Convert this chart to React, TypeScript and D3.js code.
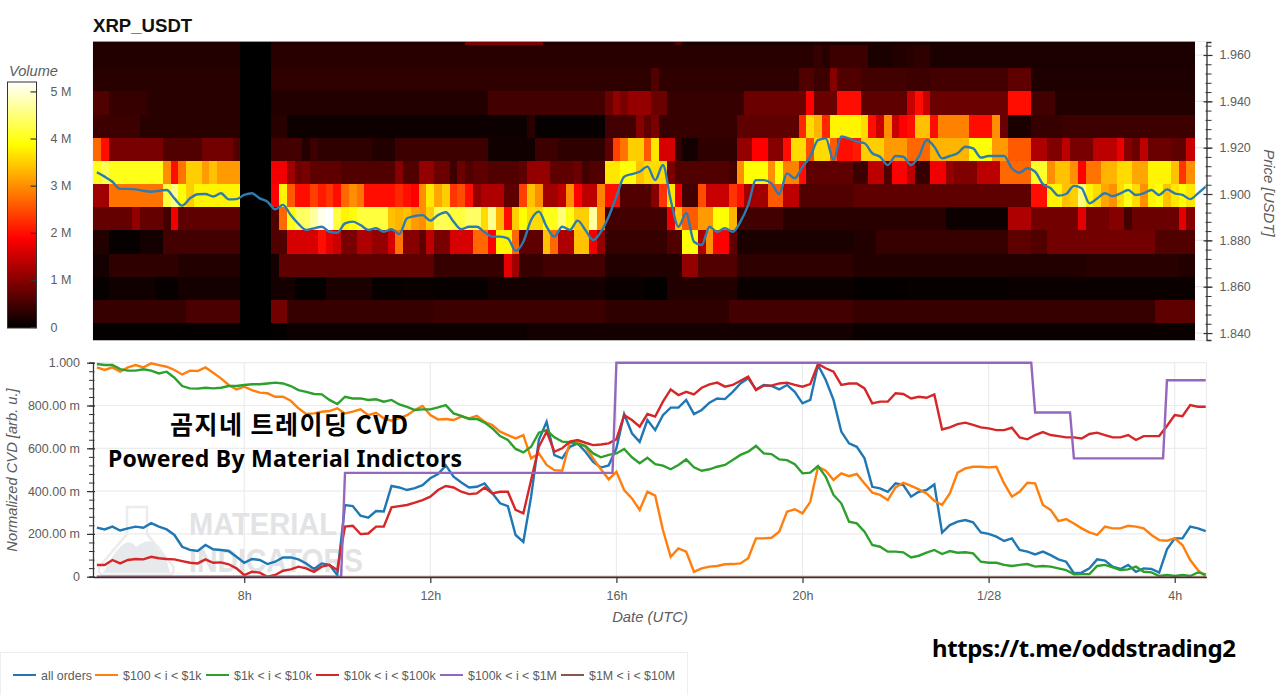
import React, { useRef, useEffect } from 'react';
import * as d3 from 'd3';

// volume per price bin (M), one value per 10 min column, top row first
const vol1964 = [
  .25,.25,.25,.25,.25,.25,.25,.25,.25,.25,
  .25,.25,.25,.25,.25,.25,.25,.25,.25,0,
  0,0,0,.25,.25,.25,.25,.25,.25,.25,
  .25,.25,.25,.25,.25,.25,.25,.25,.25,.25,
  .25,.25,.25,.25,.25,.25,.25,.25,.9,.9,
  .9,.9,.9,.9,.9,.9,.9,.9,.25,.25,
  .25,.25,.25,.25,.25,.25,.25,.25,.25,.25,
  .25,.25,.25,.25,.25,.6,.2,.2,.2,.2,
  .2,.2,.2,.2,.2,.2,.2,.2,.2,.2,
  .2,.2,.2,.2,.2,.2,.2,.2,.2,.2,
  .2,.2,.2,.2,.2,.2,.2,.2,.2,.2,
  .2,.2,.2,.2,.2,.2,.2,.2,.2,.2,
  .2,.2,.2,.2,.2,.2,.2,.2,.2,.2,
  .2,.2,.2,.2,.2,.2,.2,.2,.2,.2,
  .2,.2];
const vol1954 = [
  .25,.25,.25,.25,.25,.25,.25,.25,.25,.25,
  .25,.25,.25,.25,.25,.25,.25,.25,.25,0,
  0,0,0,.3,.3,.3,.3,.3,.3,.3,
  .3,.3,.3,.3,.3,.3,.3,.3,.3,.3,
  .3,.3,.3,.3,.3,.3,.3,.3,.3,.3,
  .3,.3,.3,.3,.3,.3,.3,.3,.3,.3,
  .3,.3,.3,.3,.3,.3,.3,.3,.3,.3,
  .3,.3,.3,.3,.3,.3,.3,.3,.3,.3,
  .3,.3,.3,.3,.3,.3,.3,.3,.3,.3,
  .3,.3,.3,.4,.3,.45,.45,.45,.45,.45,
  .2,.2,.2,.25,.25,.3,.35,.35,.2,.2,
  .2,.2,.2,.2,.2,.2,.2,.2,.2,.2,
  .2,.2,.2,.2,.2,.2,.2,.2,.2,.2,
  .2,.2,.2,.2,.2,.2,.2,.2,.2,.2,
  .2,.2];
const vol1944 = [
  .3,.3,.3,.3,.3,.3,.3,.3,.3,.3,
  .3,.3,.3,.3,.3,.3,.3,.3,.3,0,
  0,0,0,.35,.35,.35,.35,.35,.35,.35,
  .35,.35,.35,.35,.35,.35,.35,.35,.35,.35,
  .35,.35,.35,.35,.35,.35,.35,.35,.35,.35,
  .35,.35,.35,.35,.35,.35,.35,.35,.35,.35,
  .35,.35,.35,.35,.35,.35,.35,.35,.35,.35,
  .35,.35,.6,.35,.35,.35,.35,.35,.35,.35,
  .35,.35,.35,.35,.35,.35,.35,.35,.35,.35,
  .35,.6,.6,.45,.45,1,.6,.6,.6,.5,
  .5,.5,.5,.5,.5,.45,.45,.45,.5,.5,
  .5,.5,.5,.5,.5,.5,.5,.5,.7,.7,
  .7,.22,.22,.22,.22,.22,.22,.22,.22,.22,
  .22,.22,.22,.22,.22,.22,.22,.22,.22,.22,
  .22,.22];
const vol1934 = [
  .6,.6,.4,.4,.4,.4,.4,.3,.3,.3,
  .3,.3,.3,.3,.3,.3,.3,.3,.3,0,
  0,0,0,.25,.25,.25,.25,.25,.25,.25,
  .25,.25,.25,.25,.25,.25,.25,.25,.25,.25,
  .25,.25,.25,.25,.25,.25,.25,.25,.25,.25,
  .25,.5,.5,.5,.5,.5,.5,.5,.5,.5,
  .5,.5,.5,.5,.5,.5,.8,1.1,.9,1.1,
  1.1,1.1,.8,.8,.4,.4,.4,.4,.4,.4,
  .4,.4,.4,.4,.8,.8,.8,.8,.8,.8,
  .8,.8,1.9,.8,.8,.8,2,2,2,.7,
  .7,.7,.7,.7,.7,1.5,2,1.5,.8,.8,
  .8,.8,.8,.8,.8,.8,.8,.8,2,2,
  2,.5,.5,.5,.25,.25,.25,.25,.25,.25,
  .25,.25,.25,.25,.25,.25,.25,.25,.25,.25,
  .25,.25];
const vol1924 = [
  .45,.45,.45,.45,.45,.45,.3,.3,.3,.3,
  .3,.3,.3,.3,.3,.3,.3,.3,.3,0,
  0,0,0,.3,.3,.1,.1,.1,.1,.1,
  .1,.1,.1,.1,.1,.1,.1,.1,.1,.1,
  .1,.1,.1,.1,.1,.1,.1,.1,.1,.1,
  .1,.1,.1,.1,.1,.1,.3,.05,.05,.05,
  .05,.05,.05,.05,.05,.05,.5,.5,.5,.5,
  1,.7,.9,.4,.4,.4,.4,.4,.4,.4,
  .4,.4,.4,.7,.7,.7,.7,.7,.7,.7,
  .7,2.2,3.6,3.3,2.2,3.8,3.8,3.8,3.8,3.6,
  2,1.5,3,1.5,1.9,2,3.4,3.4,2,2.9,
  2.9,2.9,2.9,2,2,2,3,.8,.2,.2,
  .2,.4,.4,.4,.4,.45,.45,.45,.45,.45,
  .45,.45,.45,.45,.45,.45,.45,.45,.45,.45,
  .45,.45];
const vol1914 = [
  2.7,2,.9,.9,.9,.9,.9,.9,.9,.6,
  .6,.6,.6,.6,.85,.85,.85,.85,.6,0,
  0,0,0,.5,.5,.5,.5,.25,.45,.35,
  .35,.35,.35,.35,.35,.35,.25,.25,.25,.45,
  .45,.45,.45,.45,.45,.45,.45,.45,.45,.45,
  .45,.12,.12,.12,.12,.12,.12,.45,.45,.45,
  .35,.35,.35,.35,.35,.35,.7,2.4,2.8,3.5,
  3.5,2.6,3.7,1.6,1.6,.4,.15,.15,.35,.35,
  .35,.35,.35,1.1,1.1,1.9,1.9,1,1,2,
  3.6,3.6,2.5,3.6,3.6,2.6,2,2,2.1,3.5,
  3.5,3.5,3.1,3.1,3.1,2.7,2.7,2.7,3.3,3.3,
  3.3,3.3,3.3,3.9,3.9,3.9,3.1,3.1,2.6,2.6,
  2.6,1.3,1.3,.95,.95,1.4,.9,.9,.9,1.4,
  1.4,1.4,1.75,1,.8,1.4,.8,.8,.8,.7,
  .7,1.5];
const vol1904 = [
  4,4.3,4,4,4,4,4,4,4,3,
  2,2.8,3.5,3.5,3.1,3.4,3.1,3.1,3.1,0,
  0,0,0,1.8,1.8,1.2,.8,.9,.7,.7,
  .7,.7,.6,.6,.6,.6,.6,.6,.6,1,
  .6,.6,1.1,1.1,.8,.8,.45,.8,.6,.7,
  .7,.6,.6,.6,.6,.7,1.1,1.1,1.1,.7,
  .7,.7,.8,.5,.6,.6,3.7,3.7,3.9,3.9,
  3.4,3.6,3.6,3.6,.9,.6,.6,.6,.6,.6,
  .6,.6,.5,3,3.9,3.9,3.9,3,3.9,2.9,
  2.9,2,.7,.7,.7,.7,.7,.7,.45,.45,
  1.4,1.4,.6,1.9,1.9,1.4,.4,.4,1.8,1.8,
  1.1,.95,.95,.95,1.4,1.4,1.4,2.7,2.7,2.7,
  2.7,4.1,4.1,3,3.4,3.4,3,1.9,2.8,2.8,
  3.3,3.3,3.6,3.6,3.2,3.2,3.8,3.8,3.8,3.4,
  2.3,3];
const vol1894 = [
  1.2,1.2,2.8,2.8,2.8,2.8,2.8,2.8,2.8,4.2,
  4.6,3.9,3.5,3.8,3.8,3.8,3.8,3.8,3.8,0,
  0,0,0,1.9,3.8,2.6,2,2,2.4,2.1,
  2.3,2,2.7,3,2.8,2,2,2,2,2.2,
  2,1.9,3,3.7,3.2,3.5,2.3,2.5,2,1.1,
  1.3,1.3,1.3,.7,.7,2.4,3.4,3,1.2,1.2,
  1.4,3,1.9,1.4,1.4,2.9,2,2,.6,.6,
  .6,.6,1,2.3,3.7,1.8,.5,.5,2.5,1.5,
  1.5,1.5,2.3,2,1.2,1.2,1.2,2.6,2.6,1.4,
  1.4,.6,.6,.6,.6,.6,.6,.6,.7,.7,
  .7,.7,.7,.7,.7,.7,.7,.7,.7,.7,
  .7,.7,.7,.7,.7,.7,.7,.7,.7,.7,
  .7,2,2,3.8,3.8,3.4,3.5,4.5,3.8,3.6,
  3.2,3,3.6,4,3.6,3,3.8,3.9,3.4,3.7,
  3.9,3.7];
const vol1884 = [
  .75,.75,.75,.75,.75,1.1,.75,.75,.75,.5,
  1.8,.7,.7,.7,.7,.7,.7,.7,.7,0,
  0,0,0,.6,2.7,4,4.4,4.4,4.7,5.1,
  5.2,4.2,3.8,3.9,4.2,4.2,4.2,4.2,3.4,3.3,
  3.4,3.1,3,3.5,4.3,4.3,4.2,4.2,4.4,4.4,
  3.6,4.6,3.3,2,3.5,3.9,3.6,3.6,4,4,
  4.5,4,3.5,3.5,4.7,3,.5,.5,.5,.5,
  .5,.5,.5,.5,1.8,3.4,2.6,2.6,3.1,3.1,
  3.9,3.9,3.3,.5,.5,.5,.5,.5,.5,.3,
  .3,.3,.3,.3,.3,.3,.3,.3,.3,.3,
  .3,.3,.3,.3,.3,.3,.3,.3,.3,.3,
  .1,.1,.1,.1,.1,.1,.1,.1,1.3,1.3,
  1.3,.85,.85,.85,.85,.85,.85,1.7,.85,.85,
  .85,1,1,.5,.8,.8,.8,.8,.8,.8,
  1.7,1];
const vol1874 = [
  .25,.25,.05,.05,.05,.05,.15,.15,.15,.5,
  .5,.5,.5,.5,.5,.5,.5,.5,.5,0,
  0,0,0,.6,.6,1.6,1.6,1.6,1.6,2,
  1.7,1.5,.9,.9,1.3,1.3,1.1,1.1,1.6,2.8,
  1,1,.7,1.4,.9,.9,1.6,1.6,1.6,2.7,
  2.7,1.9,3.8,3.8,2.7,.7,.7,.7,3.4,2.7,
  1.3,1.3,3.4,3.4,1.8,1.1,.4,.4,.4,.4,
  .4,.4,.4,.4,.6,.6,3.9,3.9,1.3,3,
  1.9,1.9,.7,.2,.2,.2,.2,.2,.2,.2,
  .2,.2,.2,.2,.2,.2,.2,.2,.25,.25,
  .25,.4,.4,.4,.4,.4,.4,.4,.4,.4,
  .4,.4,.4,.4,.4,.4,.4,.4,.7,.7,
  .7,.6,.6,.85,.85,.85,.85,.85,.85,.85,
  .85,.85,.85,.85,.85,.85,.85,.6,.6,.6,
  .6,.6];
const vol1864 = [
  .15,.15,.35,.35,.35,.35,.35,.35,.35,.35,
  .35,.25,.25,.25,.25,.25,.25,.25,.25,0,
  0,0,0,.15,.7,.7,.7,.7,.7,.7,
  .7,.7,.7,.7,.7,.7,.7,.7,.7,.7,
  .7,.7,.7,.7,.4,.4,.4,.4,.4,.4,
  .4,.4,.4,1.7,1.2,.4,.4,.4,.5,.5,
  .5,.5,.5,.5,.5,.5,.25,.25,.25,.25,
  .25,.25,.25,.25,.25,.25,1.1,1.1,.6,.6,
  .6,.6,.6,.35,.35,.35,.35,.35,.35,.35,
  .35,.35,.35,.35,.35,.35,.35,.35,.25,.25,
  .25,.25,.25,.25,.25,.25,.25,.25,.25,.25,
  .25,.25,.25,.25,.25,.25,.25,.25,.25,.25,
  .25,.25,.25,.25,.25,.25,.25,.25,.3,.3,
  .3,.3,.3,.3,.3,.3,.3,.3,.3,.3,
  .25,.25];
const vol1854 = [
  .05,.05,.12,.12,.12,.12,.12,.12,.05,.05,
  .05,.15,.15,.15,.15,.15,.15,.15,.15,0,
  0,0,0,.15,.15,.15,.02,.02,.02,.02,
  .2,.2,.2,.2,.2,.2,.05,.05,.05,.05,
  .08,.08,.08,.08,.05,.05,.05,.05,.05,.05,
  .05,.15,.15,.15,.15,.15,.15,.15,.15,.15,
  .15,.15,.15,.15,.15,.15,.08,.08,.08,.08,
  .08,.02,.02,.02,.25,.25,.25,.25,.25,.25,
  .25,.25,.25,.08,.08,.08,.08,.08,.08,.08,
  .08,.08,.08,.08,.08,.08,.08,.08,.03,.03,
  .03,.03,.03,.03,.03,.05,.05,.05,.05,.05,
  .05,.05,.05,.05,.05,.05,.05,.05,.08,.08,
  .08,.08,.08,.08,.08,.08,.08,.08,.08,.08,
  .08,.08,.08,.08,.08,.08,.08,.08,.08,.08,
  .08,.08];
const vol1844 = [
  .4,.4,.4,.4,.4,.4,.4,.4,.4,.4,
  .4,.4,.55,.55,.55,.55,.55,.55,.55,0,
  0,0,0,.85,.85,.4,.4,.4,.4,.4,
  .4,.4,.4,.4,.4,.4,.4,.4,.4,.4,
  .4,.4,.4,.4,.45,.45,.45,.45,.45,.45,
  .45,.45,.45,.45,.45,.45,.45,.45,.45,.45,
  .45,.45,.45,.45,.45,.45,.35,.35,.35,.35,
  .35,.35,.35,.35,.35,.35,.35,.35,.35,.35,
  .35,.35,.5,.5,.5,.5,.5,.5,.5,.5,
  .5,.5,.5,.5,.5,.5,.5,.5,.4,.4,
  .4,.4,.4,.4,.4,.4,.4,.4,.4,.4,
  .4,.4,.4,.4,.4,.4,.4,.4,.4,.4,
  .4,.4,.4,.4,.4,.4,.4,.4,.4,.4,
  .4,.4,.4,.4,.4,.4,.4,.7,.7,.7,
  .7,.7];
const vol1834 = [
  .03,.03,.03,.03,.03,.03,.03,.03,.03,.03,
  .03,.03,.03,.03,.03,.03,.03,.03,.03,0,
  0,0,0,.03,.03,.1,.1,.1,.1,.1,
  .1,.1,.1,.1,.1,.1,.1,.1,.1,.1,
  .1,.1,.1,.1,.1,.1,.1,.1,.1,.1,
  .1,.1,.1,.1,.1,.1,.15,.15,.15,.15,
  .15,.15,.15,.15,.15,.15,.15,.15,.15,.15,
  .15,.15,.15,.15,.15,.15,.15,.15,.15,.15,
  .15,.15,.15,.15,.15,.15,.15,.15,.15,.15,
  .15,.15,.15,.15,.15,.15,.15,.15,.08,.08,
  .08,.08,.08,.08,.08,.08,.08,.08,.08,.08,
  .08,.08,.08,.08,.08,.08,.08,.08,.08,.08,
  .08,.08,.08,.08,.08,.08,.08,.08,.08,.08,
  .08,.08,.08,.08,.08,.08,.08,.08,.08,.08,
  .08,.08];
const volumeRows = [vol1964, vol1954, vol1944, vol1934, vol1924, vol1914, vol1904, vol1894, vol1884, vol1874, vol1864, vol1854, vol1844, vol1834];
const rowBottoms = [1.9643, 1.9543, 1.9443, 1.9343, 1.9243, 1.9143, 1.9043, 1.8943, 1.8843, 1.8743, 1.8643, 1.8543, 1.8443, 1.8343];

// price and normalised CVD, one value per 10 min from 4:50
const price = [
  1.9094,1.9075,1.9053,1.9022,1.9022,1.9020,1.9014,1.9010,1.9014,1.9017,
  1.8981,1.8950,1.8981,1.8999,1.9000,1.8989,1.9003,1.8977,1.8978,1.8996,
  1.9003,1.8981,1.8967,1.8934,1.8953,1.8909,1.8871,1.8845,1.8852,1.8859,
  1.8837,1.8833,1.8873,1.8881,1.8866,1.8845,1.8852,1.8837,1.8848,1.8827,
  1.8895,1.8905,1.8909,1.8885,1.8909,1.8921,1.8881,1.8848,1.8859,1.8859,
  1.8835,1.8816,1.8816,1.8809,1.8755,1.8794,1.8888,1.8924,1.8859,1.8816,
  1.8859,1.8845,1.8885,1.8845,1.8801,1.8837,1.8902,1.8989,1.9075,1.9086,
  1.9096,1.9118,1.9060,1.9125,1.8974,1.8859,1.8917,1.8794,1.8780,1.8859,
  1.8837,1.8852,1.8837,1.8881,1.8953,1.9060,1.9060,1.9046,1.9000,1.9089,
  1.9068,1.9118,1.9161,1.9233,1.9240,1.9147,1.9248,1.9240,1.9226,1.9219,
  1.9176,1.9161,1.9125,1.9164,1.9161,1.9125,1.9161,1.9233,1.9204,1.9154,
  1.9164,1.9176,1.9204,1.9197,1.9157,1.9164,1.9164,1.9164,1.9111,1.9092,
  1.9111,1.9096,1.9043,1.9025,1.8993,1.9000,1.9035,1.9025,1.8960,1.8981,
  1.9003,1.8991,1.9003,1.9017,1.8996,1.9003,1.9017,1.8996,1.9020,1.9003,
  1.8996,1.8978,1.9003,1.9032];
const allOrders = [
  .229,.221,.234,.216,.226,.234,.229,.25,.234,.221,
  .195,.14,.125,.12,.148,.128,.125,.12,.093,.065,
  .083,.078,.059,.07,.09,.09,.081,.062,.036,.062,
  .055,.008,.335,.33,.285,.276,.307,.305,.424,.417,
  .405,.414,.428,.46,.48,.52,.467,.44,.417,.42,
  .436,.39,.343,.33,.195,.163,.374,.64,.724,.568,
  .553,.607,.623,.584,.537,.51,.52,.6,.76,.67,
  .63,.732,.685,.755,.79,.79,.826,.76,.779,.813,
  .833,.83,.864,.903,.927,.875,.896,.891,.875,.896,
  .864,.81,.826,.989,.919,.826,.678,.623,.607,.553,
  .42,.413,.397,.436,.428,.374,.397,.405,.431,.206,
  .241,.257,.265,.254,.207,.2,.187,.167,.179,.125,
  .117,.104,.117,.101,.081,.07,.016,.019,.039,.081,
  .075,.047,.036,.055,.023,.039,.036,.019,.128,.179,
  .179,.234,.226,.213];
const orders100 = [
  .978,.966,.978,.958,.978,.989,.978,.997,.989,.981,
  .966,.945,.963,.961,.978,.953,.927,.896,.875,.888,
  .872,.86,.857,.841,.841,.822,.787,.76,.763,.771,
  .774,.787,.763,.771,.782,.755,.766,.74,.729,.74,
  .755,.779,.798,.755,.735,.737,.732,.748,.74,.752,
  .724,.709,.678,.662,.646,.662,.553,.576,.522,.498,
  .495,.631,.631,.607,.553,.502,.455,.49,.405,.366,
  .312,.397,.379,.218,.093,.132,.117,.023,.039,.047,
  .05,.058,.059,.062,.086,.179,.179,.182,.21,.304,
  .315,.296,.35,.514,.495,.452,.483,.47,.48,.436,
  .393,.382,.358,.417,.439,.424,.408,.389,.355,.335,
  .389,.486,.506,.514,.514,.511,.514,.436,.374,.397,
  .439,.436,.335,.312,.26,.269,.249,.226,.207,.195,
  .234,.226,.226,.238,.234,.226,.195,.171,.168,.179,
  .148,.078,.031,0];
const orders1k = [
  .994,.989,.989,.97,.963,.963,.969,.963,.95,.958,
  .93,.891,.88,.879,.883,.88,.883,.891,.891,.896,
  .899,.899,.903,.907,.903,.891,.872,.864,.854,.852,
  .826,.807,.841,.833,.833,.826,.829,.818,.826,.805,
  .794,.779,.782,.782,.791,.802,.763,.752,.737,.737,
  .72,.693,.657,.639,.597,.581,.607,.673,.685,.651,
  .631,.628,.62,.611,.576,.558,.569,.576,.597,.558,
  .53,.556,.526,.519,.502,.522,.548,.511,.495,.502,
  .514,.522,.545,.569,.584,.611,.576,.573,.548,.545,
  .526,.483,.486,.517,.467,.382,.343,.257,.249,.21,
  .148,.14,.117,.117,.114,.09,.098,.112,.125,.106,
  .12,.112,.114,.109,.07,.065,.065,.055,.05,.055,
  .059,.047,.05,.047,.039,.031,.011,.012,.012,.05,
  .055,.044,.031,.034,.047,.023,.02,.003,.008,.003,
  .008,.003,.02,.011];
const orders10k = [
  .055,.055,.078,.062,.078,.083,.081,.093,.086,.083,
  .081,.073,.065,.062,.081,.065,.067,.058,.039,.008,
  .023,.019,0,.008,.028,.034,.047,.039,.023,.047,
  .055,.031,.234,.238,.199,.202,.234,.234,.324,.33,
  .335,.346,.358,.374,.405,.424,.417,.397,.386,.389,
  .417,.389,.397,.397,.312,.296,.452,.607,.678,.584,
  .6,.631,.639,.626,.615,.618,.623,.642,.755,.732,
  .701,.76,.748,.818,.875,.849,.864,.852,.883,.899,
  .907,.888,.896,.916,.935,.872,.893,.893,.903,.907,
  .896,.888,.9,.994,.974,.958,.896,.903,.903,.88,
  .81,.818,.818,.857,.854,.833,.841,.836,.852,.688,
  .698,.713,.72,.709,.698,.693,.685,.685,.696,.651,
  .642,.662,.676,.662,.657,.651,.651,.646,.667,.673,
  .662,.651,.651,.662,.639,.657,.657,.657,.704,.755,
  .75,.802,.794,.794];
// 5 min positions and levels of the two step series
const steps100kAt = [0, 63, 64, 133, 134, 241, 242, 251, 252, 275, 276, 286];
const steps100k = [0, 0, .485, .485, 1, 1, .767, .767, .553, .553, .918, .918];
const steps1mAt = [0, 286];
const steps1m = [0, 0];

const seriesNames = ['all orders', '$100 < i < $1k', '$1k < i < $10k', '$10k < i < $100k', '$100k < i < $1M', '$1M < i < $10M'];
const seriesColors = ['#1f77b4', '#ff7f0e', '#2ca02c', '#d62728', '#9467bd', '#8c564b'];
const legendLineX = [13, 95, 206, 316, 440, 561];

const utc = (d: number, h: number, m = 0) => new Date(Date.UTC(2026, 0, d, h, m));
const timeTicks = [utc(27, 8), utc(27, 12), utc(27, 16), utc(27, 20), utc(28, 0), utc(28, 4)];
const timeLabels = ['8h', '12h', '16h', '20h', '1/28', '4h'];
const priceTicks = [1.84, 1.86, 1.88, 1.9, 1.92, 1.94, 1.96];
const cvdTicks = [0, .2, .4, .6, .8, 1];
const volumeTicks = [0, 1, 2, 3, 4, 5];
const hotStops = [0, 1.9, 3.88, 5.2];
const hotColors = ['#000000', '#ff0000', '#ffff00', '#ffffff'];

const FONT = '"Liberation Sans", Arial, sans-serif';
const GREY = '#5c5c5c';

const App = () => {
  const ref = useRef<SVGSVGElement>(null);

  useEffect(() => {
    const svg = d3.select(ref.current);
    svg.selectAll('*').remove();

    const x = d3.scaleUtc().domain([utc(27, 4, 45), utc(28, 4, 41)]).range([93, 1206.5]);
    const yPrice = d3.scaleLinear().domain([1.837, 1.9656]).range([340, 42]).clamp(true);
    const yCvd = d3.scaleLinear().domain([0, 1]).range([576.7, 362.7]);
    const yVol = d3.scaleLinear().domain([0, 5.2]).range([327, 82]);
    const color = d3.scaleLinear<string>().domain(hotStops).range(hotColors).clamp(true);
    const colTime = (i: number) => new Date(utc(27, 4, 45).getTime() + i * 600000);
    const lineTime = (i: number) => new Date(utc(27, 4, 50).getTime() + i * 600000);
    const stepTime = (i: number) => new Date(utc(27, 4, 50).getTime() + i * 300000);

    const styleAxis = (g: any) => {
      g.select('.domain').attr('stroke', '#333').attr('stroke-width', 1.3);
      g.selectAll('.tick line').attr('stroke', '#333').attr('stroke-width', 1.2);
      g.selectAll('text').attr('fill', GREY).style('font', `12.5px ${FONT}`);
    };

    // top panel grid + heatmap
    svg.append('g').selectAll('line').data(priceTicks).join('line')
      .attr('x1', 93).attr('x2', 1206.5)
      .attr('y1', d => yPrice(d)).attr('y2', d => yPrice(d))
      .attr('stroke', '#e8e8e8').attr('stroke-width', 1.2);
    svg.append('rect').attr('x', 93).attr('y', 41.5).attr('width', 1113.5).attr('height', 299)
      .attr('fill', 'none').attr('stroke', '#eeeeee');

    const heat = svg.append('g').attr('shape-rendering', 'crispEdges');
    volumeRows.forEach((row, r) => {
      heat.append('g').selectAll('rect').data(row).join('rect')
        .attr('x', (d, i) => x(colTime(i)))
        .attr('width', (d, i) => x(colTime(i + 1)) - x(colTime(i)) + 0.5)
        .attr('y', yPrice(rowBottoms[r] + 0.01))
        .attr('height', yPrice(rowBottoms[r]) - yPrice(rowBottoms[r] + 0.01))
        .attr('fill', d => color(d));
    });
    svg.append('line').attr('x1', 93).attr('x2', 1195).attr('y1', 41.5).attr('y2', 41.5).attr('stroke', '#999');
    svg.append('line').attr('x1', 93).attr('x2', 1195).attr('y1', 340.5).attr('y2', 340.5).attr('stroke', '#bbb');

    svg.append('path').datum(price)
      .attr('fill', 'none').attr('stroke', '#2b7cb0').attr('stroke-width', 2.4)
      .attr('d', d3.line<number>().x((d, i) => x(lineTime(i))).y(d => yPrice(d)).curve(d3.curveMonotoneX));

    // price axis
    const priceMinor = svg.append('g').attr('transform', 'translate(1206.5,0)')
      .call(d3.axisRight(yPrice).tickValues(d3.range(1.84, 1.9641, 0.004)).tickFormat(() => '').tickSize(5));
    priceMinor.call(styleAxis);
    priceMinor.selectAll('.tick line').attr('x1', -1).attr('stroke-width', 1);
    const priceAxis = svg.append('g').attr('transform', 'translate(1206.5,0)')
      .call(d3.axisRight(yPrice).tickValues(priceTicks).tickFormat(d3.format('.3f') as any).tickSize(6).tickPadding(7));
    priceAxis.call(styleAxis);
    priceAxis.selectAll('.tick line').attr('x1', -3);
    priceAxis.select('.domain').remove();
    svg.append('text').text('Price [USDT]')
      .attr('transform', 'translate(1264,193) rotate(90)')
      .attr('text-anchor', 'middle').attr('fill', GREY)
      .style('font', `italic 15px ${FONT}`);

    svg.append('text').text('XRP_USDT').attr('x', 93).attr('y', 32)
      .attr('fill', '#111').style('font', `bold 18.6px ${FONT}`);

    // colour bar
    const defs = svg.append('defs');
    const grad = defs.append('linearGradient').attr('id', 'hot').attr('x1', 0).attr('x2', 0).attr('y1', 1).attr('y2', 0);
    hotStops.forEach((s, i) => {
      grad.append('stop').attr('offset', `${(s / 5.2) * 100}%`).attr('stop-color', hotColors[i]);
    });
    svg.append('rect').attr('x', 7.5).attr('y', 82).attr('width', 29).attr('height', yVol(0) - yVol(5.2) + 1)
      .attr('fill', 'url(#hot)').attr('stroke', '#333').attr('stroke-width', 1);
    const volAxis = svg.append('g').attr('transform', 'translate(36.5,0)')
      .call(d3.axisRight(yVol).tickValues(volumeTicks).tickFormat((d: any) => (d === 0 ? '0' : `${d} M`)).tickSize(0).tickPadding(14));
    volAxis.call(styleAxis);
    volAxis.select('.domain').remove();
    volAxis.selectAll('.tick line').attr('x1', -6).attr('x2', 0).attr('stroke', '#333');
    svg.append('text').text('Volume').attr('x', 9).attr('y', 76)
      .attr('fill', GREY).style('font', `italic 14.6px ${FONT}`);

    // bottom panel grid
    const grid = svg.append('g').attr('stroke', '#ececec').attr('stroke-width', 1.2);
    cvdTicks.forEach(t => {
      grid.append('line').attr('x1', 93).attr('x2', 1206.5).attr('y1', yCvd(t)).attr('y2', yCvd(t));
    });
    timeTicks.forEach(t => {
      grid.append('line').attr('x1', x(t)).attr('x2', x(t)).attr('y1', 362.7).attr('y2', 576.7);
    });
    grid.append('line').attr('x1', 1206.5).attr('x2', 1206.5).attr('y1', 362.7).attr('y2', 576.7);

    // watermark
    const mark = svg.append('g').attr('fill', '#e2e3e5').attr('stroke', 'none');
    mark.append('path').attr('d', 'M103 573 Q125 530 136 547 Q160 528 170 573 Z').attr('fill', '#e6eaec');
    mark.append('path')
      .attr('d', 'M127 507 H147 V534 L173 566 Q176 575 167 575 H106 Q96 575 100 566 L127 534 Z')
      .attr('fill', 'none').attr('stroke', '#ececec').attr('stroke-width', 2.5);
    mark.append('text').text('MATERIAL').attr('x', 189).attr('y', 535)
      .attr('textLength', 148).attr('lengthAdjust', 'spacingAndGlyphs')
      .style('font', `bold 32px ${FONT}`);
    mark.append('text').text('INDICATORS').attr('x', 189).attr('y', 572)
      .attr('textLength', 174).attr('lengthAdjust', 'spacingAndGlyphs')
      .style('font', `bold 34px ${FONT}`);

    // cvd lines
    const line10 = d3.line<number>().x((d, i) => x(lineTime(i))).y(d => yCvd(d));
    [allOrders, orders100, orders1k, orders10k].forEach((s, i) => {
      svg.append('path').datum(s)
        .attr('fill', 'none').attr('stroke', seriesColors[i]).attr('stroke-width', 2.4)
        .attr('d', line10);
    });
    const lineStep = (at: number[]) => d3.line<number>().x((d, i) => x(stepTime(at[i]))).y(d => yCvd(d));
    svg.append('path').datum(steps100k).attr('fill', 'none').attr('stroke', seriesColors[4]).attr('stroke-width', 2.4)
      .attr('d', lineStep(steps100kAt));
    svg.append('path').datum(steps1m).attr('fill', 'none').attr('stroke', seriesColors[5]).attr('stroke-width', 2).attr('opacity', 0.6)
      .attr('d', lineStep(steps1mAt));

    // cvd axes
    const cvdMinor = svg.append('g').attr('transform', 'translate(93,0)')
      .call(d3.axisLeft(yCvd).tickValues(d3.range(0, 1.001, 0.04)).tickFormat(() => '').tickSize(4));
    cvdMinor.call(styleAxis);
    cvdMinor.selectAll('.tick line').attr('x1', 1.5).attr('stroke-width', 1);
    const cvdAxis = svg.append('g').attr('transform', 'translate(93,0)')
      .call(d3.axisLeft(yCvd).tickValues(cvdTicks)
        .tickFormat((d: any) => (d === 0 ? '0' : d === 1 ? '1.000' : `${(d * 1000).toFixed(2)} m`))
        .tickSize(6).tickPadding(7));
    cvdAxis.call(styleAxis);
    cvdAxis.select('.domain').remove();
    cvdAxis.selectAll('.tick line').attr('x1', 2);
    const timeAxis = svg.append('g').attr('transform', 'translate(0,577)')
      .call(d3.axisBottom(x).tickValues(timeTicks).tickFormat((d: any, i: number) => timeLabels[i]).tickSize(6).tickSizeOuter(0).tickPadding(8));
    timeAxis.call(styleAxis);
    svg.append('text').text('Date (UTC)').attr('x', 650).attr('y', 622).attr('text-anchor', 'middle')
      .attr('fill', GREY).style('font', `italic 14.8px ${FONT}`);
    svg.append('text').text('Normalized CVD [arb. u.]')
      .attr('transform', 'translate(17,470) rotate(-90)').attr('text-anchor', 'middle')
      .attr('fill', GREY).style('font', `italic 14.7px ${FONT}`);

    // legend
    svg.append('rect').attr('x', 0.5).attr('y', 652.5).attr('width', 687).attr('height', 50)
      .attr('fill', 'none').attr('stroke', '#eeeeee');
    seriesNames.forEach((name, i) => {
      svg.append('line').attr('x1', legendLineX[i]).attr('x2', legendLineX[i] + 23).attr('y1', 675).attr('y2', 675)
        .attr('stroke', seriesColors[i]).attr('stroke-width', 2);
      svg.append('text').text(name).attr('x', legendLineX[i] + 28).attr('y', 679.5)
        .attr('fill', GREY).style('font', `12.4px ${FONT}`);
    });

    // overlay captions
    svg.append('text').text('곰지네 트레이딩 CVD').attr('x', 170).attr('y', 434)
      .attr('textLength', 238).attr('fill', '#000')
      .style('font', 'bold 25px "Noto Sans CJK KR", sans-serif');
    svg.append('text').text('Powered By Material Indictors').attr('x', 108).attr('y', 467)
      .attr('textLength', 354).attr('fill', '#000')
      .style('font', 'bold 23px "Noto Sans", sans-serif');
    svg.append('text').text('https://t.me/oddstrading2').attr('x', 932).attr('y', 657)
      .attr('textLength', 304).attr('fill', '#000')
      .style('font', 'bold 24px "Noto Sans", sans-serif');
  }, []);

  return <svg ref={ref} width={1280} height={695} style={{ position: 'absolute', left: 0, top: 0, display: 'block', background: '#fff' }}></svg>;
};

export default App;
